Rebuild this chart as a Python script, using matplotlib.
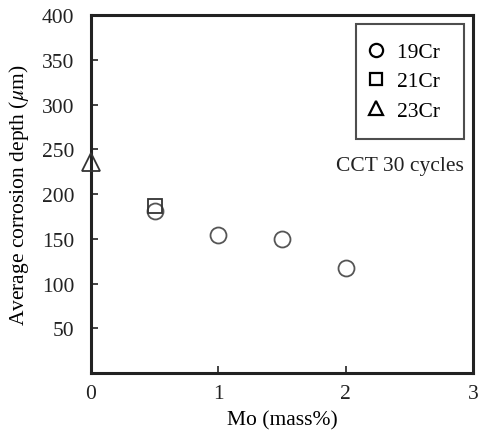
import matplotlib
matplotlib.use("Agg")
import matplotlib.pyplot as plt
from matplotlib.lines import Line2D

plt.rcParams['font.family'] = ['Liberation Serif', 'DejaVu Serif']
plt.rcParams['mathtext.fontset'] = 'stix'

mo_19 = [0.5, 1.0, 1.5, 2.0]
depth_19 = [181, 154, 150, 117]
mo_21 = [0.5]
depth_21 = [187]
mo_23 = [0.0]
depth_23 = [236]
xticks = [0, 1, 2, 3]
yticks = [50, 100, 150, 200, 250, 300, 350, 400]
series_labels = ['19Cr', '21Cr', '23Cr']

fig = plt.figure(figsize=(4.8, 4.39), dpi=100)
ax = fig.add_axes([91/480, 1-374/439, (473-91)/480, (374-16)/439])

mc = '#555555'
ax.plot(mo_19, depth_19, 'o', mfc='none', mec=mc, ms=11.5, mew=1.3, clip_on=False, zorder=3)
ax.plot(mo_21, depth_21, 's', mfc='none', mec='#333333', ms=10.5, mew=1.3, clip_on=False, zorder=3)
ax.plot(mo_23, depth_23, '^', mfc='none', mec='#333333', ms=12.5, mew=1.3, clip_on=False, zorder=3)

ax.set_xlim(0, 3)
ax.set_ylim(0, 400)
ax.set_xticks(xticks)
ax.set_yticks(yticks)
ax.tick_params(direction='in', length=5, width=1.2, labelsize=15.5, colors='#222222')
ax.tick_params(axis='y', pad=12)
ax.tick_params(axis='x', pad=8)
for s in ax.spines.values():
    s.set_linewidth(2.2)
    s.set_color('#222222')

ax.set_xlabel('Mo (mass%)', fontsize=15.5, labelpad=5)
ax.set_ylabel(r'Average corrosion depth ($\mu$m)', fontsize=15.5, labelpad=8)

handles = [
    Line2D([], [], marker='o', ls='none', mfc='none', mec='black', ms=9.5, mew=1.6),
    Line2D([], [], marker='s', ls='none', mfc='none', mec='black', ms=8.5, mew=1.6),
    Line2D([], [], marker='^', ls='none', mfc='none', mec='black', ms=10.5, mew=1.6),
]
leg = ax.legend(handles, [s + ' ' for s in series_labels], loc='upper right',
                bbox_to_anchor=(0.976, 0.975), borderaxespad=0, fontsize=15.5, frameon=True,
                fancybox=False, edgecolor='#222222', handletextpad=0.93,
                labelspacing=0.43, borderpad=0.84, handlelength=0.15)
leg.get_frame().set_linewidth(1.5)

ax.text(0.809, 0.58, 'CCT 30 cycles', transform=ax.transAxes, fontsize=15.5,
        ha='center', va='center', color='#222222')

fig.savefig('out.png', dpi=100)
